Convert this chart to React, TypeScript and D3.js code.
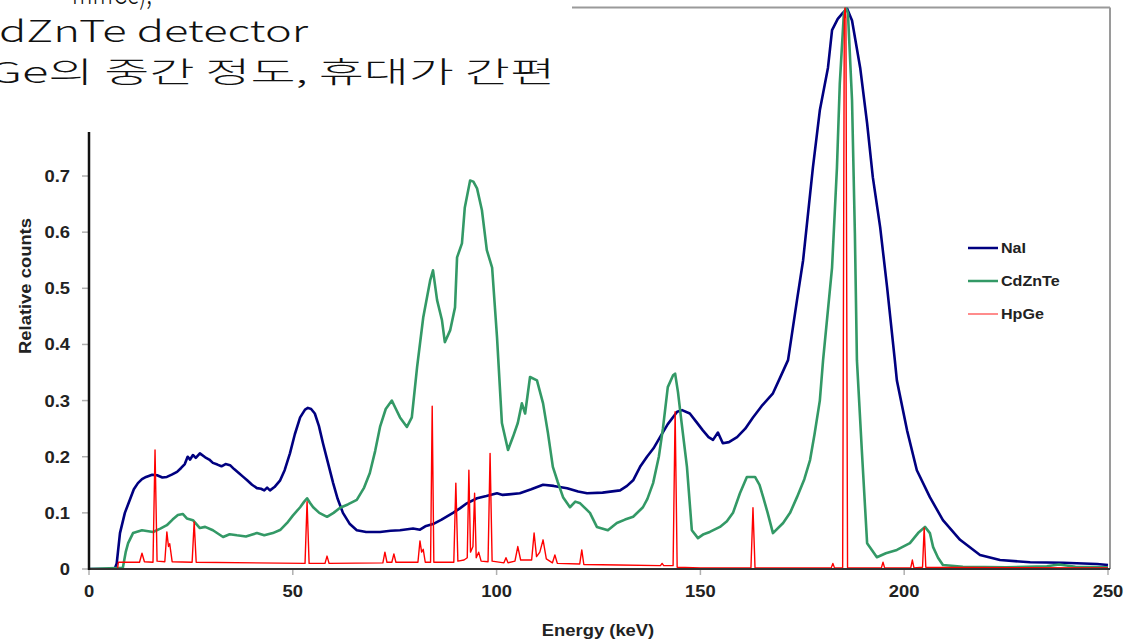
import React from "react";
import * as d3 from "d3";

// ---------- data ----------
const xTicks = [0, 50, 100, 150, 200, 250];
const yTicks = [0, 0.1, 0.2, 0.3, 0.4, 0.5, 0.6, 0.7, 0.8, 0.9, 1.0];
const yTickLabels = ["0", "0.1", "0.2", "0.3", "0.4", "0.5", "0.6", "0.7", "0.8", "0.9", "1"];
const seriesNames = ["NaI", "CdZnTe", "HpGe"];
const seriesColors = ["#000080", "#339966", "#ff0000"];
const headerLines = ["mmCe),", "dZnTe detector", "Ge의 중간 정도, 휴대가 간편"];

// NaI: [energy keV, relative counts]
const naiPoints: [number, number][] = [
  [0, 0], [6.3, 0], [6.8, 0.01], [7.6, 0.064], [8.8, 0.1], [10, 0.123], [11, 0.142], [12, 0.153],
  [13, 0.16], [14, 0.164], [15.5, 0.168], [16.7, 0.167], [18, 0.163], [19.1, 0.164], [20.3, 0.168],
  [21.6, 0.173], [22.6, 0.18], [23.5, 0.187], [24.2, 0.2], [24.8, 0.195], [25.5, 0.203], [26.2, 0.198],
  [27.2, 0.206], [28.5, 0.199], [29.5, 0.195], [30.4, 0.189], [31.5, 0.186], [32.5, 0.183], [33.5, 0.187],
  [34.6, 0.185], [35.6, 0.178], [36.6, 0.172], [37.7, 0.165], [38.8, 0.158], [40, 0.15], [41.2, 0.144],
  [42.2, 0.143], [43, 0.14], [43.7, 0.145], [44.4, 0.14], [45.5, 0.146], [46.9, 0.158], [48, 0.176],
  [49.3, 0.206], [50.5, 0.24], [51.8, 0.27], [53, 0.284], [53.7, 0.287], [54.5, 0.285], [55.4, 0.277],
  [56.4, 0.255], [57.4, 0.224], [58.6, 0.19], [59.9, 0.153], [61, 0.125], [62.3, 0.1], [64, 0.08],
  [65.7, 0.069], [68, 0.066], [71.4, 0.066], [74, 0.068], [76.3, 0.069], [79.5, 0.072], [81.2, 0.07],
  [82.5, 0.076], [84.4, 0.08], [86.5, 0.088], [89.3, 0.1], [91, 0.108], [92.7, 0.117], [95.2, 0.126],
  [97.5, 0.13], [100.1, 0.135], [101.5, 0.132], [103, 0.133], [105.7, 0.135], [108.5, 0.142],
  [111.4, 0.15], [114, 0.148], [117.3, 0.144], [120, 0.138], [122.2, 0.135], [126, 0.136], [130.3, 0.14],
  [132, 0.148], [133.5, 0.158], [135.2, 0.182], [136.9, 0.2], [138.5, 0.215], [140.1, 0.235],
  [142, 0.258], [144.3, 0.28], [145.5, 0.283], [147.4, 0.277], [149, 0.262], [150.6, 0.247],
  [152, 0.235], [153.1, 0.23], [154.3, 0.243], [155.5, 0.224], [157, 0.226], [159, 0.235], [161, 0.25],
  [162.9, 0.27], [165, 0.29], [167.8, 0.313], [169.5, 0.34], [171.5, 0.372], [173.7, 0.479],
  [175.2, 0.55], [177.6, 0.715], [179.3, 0.817], [181.3, 0.893], [182.3, 0.96], [183.7, 0.98],
  [185, 0.991], [186, 0.998], [187.2, 0.977], [189.2, 0.893], [190.9, 0.794], [192.3, 0.698],
  [194.1, 0.609], [195.8, 0.502], [197.7, 0.372], [198.2, 0.336], [200.7, 0.247], [203.1, 0.176],
  [206.3, 0.128], [209.5, 0.087], [213.7, 0.052], [218.6, 0.025], [223.5, 0.016], [230.9, 0.012],
  [239, 0.011], [247.3, 0.009], [250, 0.007],
];

// CdZnTe
const czPoints: [number, number][] = [
  [0, 0], [8.3, 0.002], [9.0, 0.03], [9.6, 0.046], [10.8, 0.064], [13, 0.069], [15.7, 0.066],
  [17.5, 0.072], [19.1, 0.078], [20.5, 0.088], [21.8, 0.096], [23, 0.098], [24, 0.09], [25.5, 0.087],
  [27.2, 0.073], [28.5, 0.075], [30.4, 0.069], [32.9, 0.057], [34.5, 0.062], [36.3, 0.06],
  [38.5, 0.058], [41.2, 0.064], [43, 0.06], [45.1, 0.064], [47, 0.07], [48.6, 0.082], [50, 0.095],
  [51.8, 0.11], [52.8, 0.12], [53.5, 0.126], [54.2, 0.118], [55, 0.11], [56.5, 0.1], [58.4, 0.093],
  [60, 0.1], [61.6, 0.109], [63.5, 0.115], [65.7, 0.123], [67.5, 0.145], [68.9, 0.171], [70.2, 0.21],
  [71.4, 0.253], [72.8, 0.285], [74.3, 0.3], [75.3, 0.285], [76.3, 0.27], [78, 0.253], [79.2, 0.27],
  [80.5, 0.36], [82, 0.448], [83.7, 0.514], [84.4, 0.532], [85.4, 0.479], [86.6, 0.443], [87.3, 0.404],
  [88.6, 0.425], [89.8, 0.466], [90.3, 0.555], [91.5, 0.58], [92.2, 0.644], [93.5, 0.692], [94.3, 0.69],
  [95.2, 0.678], [96.4, 0.639], [97.6, 0.568], [98.9, 0.537], [100.1, 0.413], [101.3, 0.26],
  [102.8, 0.212], [104, 0.235], [105.2, 0.26], [106.2, 0.295], [107, 0.277], [108.2, 0.342],
  [109.9, 0.336], [111.4, 0.295], [112.6, 0.242], [113.8, 0.182], [115, 0.155], [116.3, 0.128],
  [118, 0.11], [119.3, 0.12], [120.5, 0.117], [122.9, 0.1], [124.6, 0.075], [127.3, 0.069],
  [129.5, 0.082], [131.5, 0.088], [133.5, 0.093], [135.9, 0.11], [137, 0.125], [138.4, 0.153],
  [139.8, 0.2], [140.8, 0.25], [142, 0.324], [143.3, 0.345], [143.8, 0.348], [144.5, 0.315],
  [145.4, 0.26], [146.7, 0.182], [147.9, 0.069], [149.4, 0.055], [150.8, 0.062], [152.3, 0.066],
  [154.8, 0.075], [156.5, 0.085], [158, 0.1], [159.7, 0.135], [161.4, 0.164], [163.4, 0.164],
  [164.5, 0.15], [165.4, 0.128], [166.5, 0.1], [167.8, 0.064], [170.3, 0.082], [172, 0.1],
  [173.7, 0.128], [175.5, 0.16], [176.9, 0.194], [178, 0.24], [179.3, 0.3], [180.1, 0.372],
  [182.3, 0.537], [183.5, 0.715], [184.2, 0.865], [185.2, 0.99], [185.7, 1.0], [186.2, 0.99],
  [187.2, 0.835], [187.9, 0.598], [188.4, 0.372], [189.6, 0.212], [190.9, 0.046], [193.3, 0.021],
  [195.5, 0.028], [198.2, 0.034], [201.4, 0.046], [203.4, 0.064], [205.1, 0.075], [206.3, 0.064],
  [207.1, 0.039], [208.3, 0.02], [209.5, 0.007], [214.4, 0.004], [225, 0.003], [235, 0.005],
  [238, 0.008], [242, 0.004], [250, 0.003],
];

// HpGe
const hpgePoints: [number, number][] = [
  [0, 0], [7.0, 0], [7.2, 0.012], [12.4, 0.012], [13.0, 0.028], [13.6, 0.013], [15.7, 0.012],
  [16.2, 0.212], [16.7, 0.014], [18.6, 0.013], [19.1, 0.066], [19.5, 0.04], [19.8, 0.045],
  [20.4, 0.013], [25.3, 0.012], [25.8, 0.084], [26.3, 0.012], [53.0, 0.01], [53.5, 0.12], [54.0, 0.01],
  [57.9, 0.01], [58.4, 0.023], [58.9, 0.01], [72.1, 0.011], [72.6, 0.03], [73.1, 0.012], [74.3, 0.012],
  [74.8, 0.027], [75.3, 0.012], [80.7, 0.012], [81.2, 0.05], [81.6, 0.03], [82.0, 0.035], [82.5, 0.012],
  [83.8, 0.012], [84.2, 0.29], [84.6, 0.012], [89.5, 0.012], [90.0, 0.153], [90.5, 0.014], [92.0, 0.016],
  [92.8, 0.02], [93.2, 0.176], [93.6, 0.03], [94.2, 0.04], [94.6, 0.135], [95.0, 0.02], [95.6, 0.03],
  [96.2, 0.014], [97.9, 0.013], [98.4, 0.206], [98.9, 0.014], [101.8, 0.011], [102.3, 0.02],
  [102.8, 0.011], [104.5, 0.014], [105.2, 0.04], [105.9, 0.016], [108.6, 0.016], [109.2, 0.064],
  [109.8, 0.022], [110.6, 0.03], [111.4, 0.052], [112.2, 0.018], [113.7, 0.011], [114.3, 0.025],
  [114.9, 0.01], [120.4, 0.009], [120.9, 0.034], [121.4, 0.008], [130, 0.007], [140.2, 0.006],
  [140.6, 0.01], [141.0, 0.006], [143.3, 0.006], [143.8, 0.28], [144.3, 0.003], [150, 0.002],
  [162.4, 0.002], [162.9, 0.109], [163.4, 0.002], [182.1, 0.002], [182.5, 0.01], [182.9, 0.002],
  [184.9, 0.002], [185.3, 0.98], [185.5, 1.0], [185.7, 0.98], [186.1, 0.002], [194.4, 0.002],
  [194.8, 0.012], [195.2, 0.002], [201.6, 0.002], [202.0, 0.016], [202.4, 0.002], [204.5, 0.003],
  [204.9, 0.073], [205.3, 0.003], [250, 0.002],
];

const allSeries = [naiPoints, czPoints, hpgePoints];

const W = 1131, H = 640;
const FONT = "'Liberation Sans', Arial, sans-serif";
const KFONT = "'Noto Sans CJK KR', sans-serif";
const SX = 1.15;

export default function App() {
  const x = d3.scaleLinear().domain([0, 250]).range([89, 1108]);
  const y = d3.scaleLinear().domain([0, 1]).range([569, 7.6]);
  const line = d3.line<[number, number]>().x((d) => x(d[0])).y((d) => y(d[1]));
  const widths = [2.6, 2.6, 1.4];
  const legendY = [248, 281, 314];

  return (
    <div style={{ position: "absolute", left: 0, top: 0, width: W, height: H, background: "#fff" }}>
      <svg width={W} height={H} style={{ display: "block" }}>
        <defs>
          <clipPath id="plot">
            <rect x={x(0)} y={y(1)} width={x(250) - x(0) + 2} height={y(0) - y(1) + 1} />
          </clipPath>
        </defs>
        <rect width={W} height={H} fill="#fff" />
        {/* frame */}
        <line x1={x(0)} x2={x(250) + 2} y1={y(1)} y2={y(1)} stroke="#9a9a9a" strokeWidth={2} />
        <line x1={x(250) + 2} x2={x(250) + 2} y1={y(1)} y2={y(0)} stroke="#9a9a9a" strokeWidth={2} />
        {/* y ticks */}
        {yTicks.map((t, i) => (
          <g key={"yt" + i}>
            <line x1={x(0) - 7} x2={x(0)} y1={y(t)} y2={y(t)} stroke="#b0b0b0" strokeWidth={1.5} />
            <text transform={`translate(70,${y(t) + 6}) scale(${SX},1)`} textAnchor="end"
              fontFamily={FONT} fontWeight="bold" fontSize={16} fill="#222">{yTickLabels[i]}</text>
          </g>
        ))}
        {/* x ticks */}
        {xTicks.map((t, i) => (
          <g key={"xt" + i}>
            <line x1={x(t)} x2={x(t)} y1={y(0)} y2={y(0) + 6} stroke="#b0b0b0" strokeWidth={1.5} />
            <text transform={`translate(${x(t)},${597}) scale(${SX},1)`} textAnchor="middle"
              fontFamily={FONT} fontWeight="bold" fontSize={16} fill="#222">{String(t)}</text>
          </g>
        ))}
        {/* series */}
        <g clipPath="url(#plot)">
          {allSeries.map((s, i) => (
            <path key={"s" + i} d={line(s) || ""} fill="none" stroke={seriesColors[i]}
              strokeWidth={widths[i]} strokeLinejoin="round" />
          ))}
        </g>
        {/* axes */}
        <line x1={x(0)} x2={x(250) + 2} y1={y(0)} y2={y(0)} stroke="#333" strokeWidth={2} />
        <line x1={x(0)} x2={x(0)} y1={y(1)} y2={y(0) + 1} stroke="#111" strokeWidth={2.5} />
        {/* axis titles */}
        <text transform={`translate(598,636) scale(${SX},1)`} textAnchor="middle"
          fontFamily={FONT} fontWeight="bold" fontSize={16} fill="#222">Energy (keV)</text>
        <text transform={`translate(31,286) rotate(-90) scale(${SX},1)`} textAnchor="middle"
          fontFamily={FONT} fontWeight="bold" fontSize={16} fill="#222">Relative counts</text>
        {/* legend */}
        {seriesNames.map((n, i) => (
          <g key={"lg" + i}>
            <line x1={968} x2={998} y1={legendY[i]} y2={legendY[i]} stroke={seriesColors[i]}
              strokeWidth={i === 2 ? 1.5 : 2.5} opacity={i === 2 ? 0.6 : 1} />
            <text transform={`translate(1001,${legendY[i] + 5}) scale(${SX},1)`}
              fontFamily={FONT} fontWeight="bold" fontSize={14} fill="#222">{n}</text>
          </g>
        ))}
        {/* overlaid slide text box */}
        <rect x={0} y={0} width={572} height={132} fill="#fff" />
        <text x={72} y={4} fontFamily={KFONT} fontWeight={300} fontSize={30} fill="#111"
          textLength={80} lengthAdjust="spacingAndGlyphs">{headerLines[0]}</text>
        <text x={-1} y={42} fontFamily={KFONT} fontWeight={300} fontSize={30} fill="#111"
          textLength={309} lengthAdjust="spacingAndGlyphs">{headerLines[1]}</text>
        <text x={-11} y={83} fontFamily={KFONT} fontWeight={300} fontSize={29} fill="#111"
          textLength={566} lengthAdjust="spacingAndGlyphs">{headerLines[2]}</text>
      </svg>
    </div>
  );
}
